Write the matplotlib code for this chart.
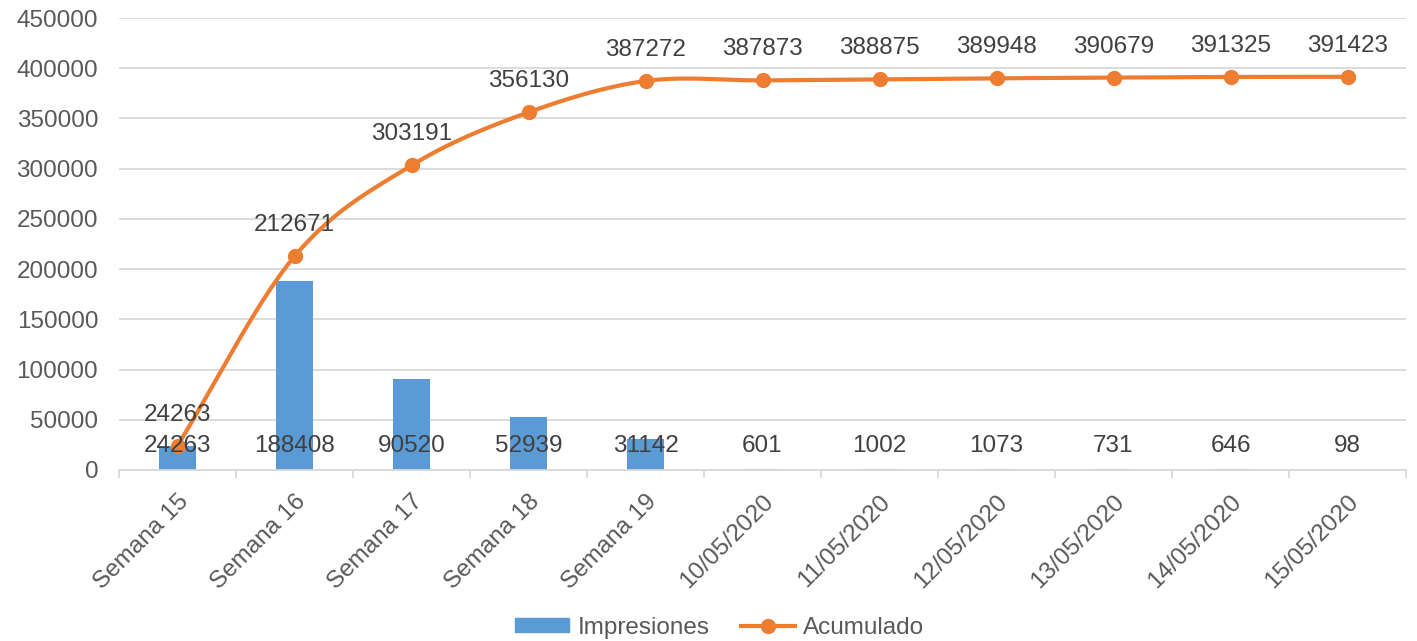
import numpy as np
import matplotlib
matplotlib.use("Agg")
import matplotlib.pyplot as plt
from matplotlib.patches import Patch
from matplotlib.lines import Line2D

categories = ["Semana 15", "Semana 16", "Semana 17", "Semana 18", "Semana 19",
              "10/05/2020", "11/05/2020", "12/05/2020", "13/05/2020", "14/05/2020", "15/05/2020"]
impresiones = [24263, 188408, 90520, 52939, 31142, 601, 1002, 1073, 731, 646, 98]
acumulado = [24263, 212671, 303191, 356130, 387272, 387873, 388875, 389948, 390679, 391325, 391423]

plt.rcParams['font.family'] = ['Liberation Sans', 'DejaVu Sans']

BAR = '#5B9BD5'
LINE = '#ED7D31'
TXT = '#404040'
TICK = '#595959'
FS = 17.5

fig = plt.figure(figsize=(14.17, 6.41), dpi=100)
ax = fig.add_axes([119/1417, 1-470/641, (1406-119)/1417, (470-18)/641])

x = np.arange(len(categories))
ax.bar(x, impresiones, width=0.32, color=BAR, zorder=2)


def catmull_rom(xs, ys, n=30):
    xs = np.asarray(xs, float); ys = np.asarray(ys, float)
    px = np.concatenate([[2*xs[0]-xs[1]], xs, [2*xs[-1]-xs[-2]]])
    py = np.concatenate([[2*ys[0]-ys[1]], ys, [2*ys[-1]-ys[-2]]])
    outx, outy = [], []
    for i in range(1, len(px)-2):
        t = np.linspace(0, 1, n, endpoint=False)
        for arr, out in ((px, outx), (py, outy)):
            p0, p1, p2, p3 = arr[i-1], arr[i], arr[i+1], arr[i+2]
            m1 = (p2 - p0) / 2
            m2 = (p3 - p1) / 2
            h00 = 2*t**3 - 3*t**2 + 1
            h10 = t**3 - 2*t**2 + t
            h01 = -2*t**3 + 3*t**2
            h11 = t**3 - t**2
            out.extend(h00*p1 + h10*m1 + h01*p2 + h11*m2)
    outx.append(xs[-1]); outy.append(ys[-1])
    return np.array(outx), np.array(outy)

sx, sy = catmull_rom(x, acumulado)
ax.plot(sx, sy, color=LINE, lw=3, zorder=3, solid_capstyle='round')
ax.plot(x, acumulado, 'o', color=LINE, ms=10, zorder=4)

for xi, v in zip(x, impresiones):
    ax.annotate(str(v), (xi, 0), xytext=(0, 24), textcoords='offset pixels',
                ha='center', va='center', fontsize=FS, color=TXT, zorder=5)
for xi, v in zip(x, acumulado):
    ax.annotate(str(v), (xi, v), xytext=(0, 31), textcoords='offset pixels',
                ha='center', va='center', fontsize=FS, color=TXT, zorder=5)

ax.set_xlim(-0.5, len(categories)-0.5)
ax.set_ylim(0, 450000)
ax.set_yticks(np.arange(0, 450001, 50000))
ax.yaxis.set_major_formatter(matplotlib.ticker.FuncFormatter(lambda v, p: f"{int(v)}"))
ax.grid(axis='y', color='#D9D9D9', lw=1.3, zorder=0)
ax.set_axisbelow(True)
for s in ['top', 'right', 'left']:
    ax.spines[s].set_visible(False)
ax.spines['bottom'].set_color('#D9D9D9')
ax.spines['bottom'].set_linewidth(1.3)
ax.tick_params(axis='y', length=0, labelsize=FS, labelcolor=TICK, pad=15)

ax.set_xticks(x)
ax.set_xticklabels(categories, rotation=45, ha='right', rotation_mode='anchor',
                   fontsize=FS, color=TICK)
ax.tick_params(axis='x', which='major', length=0, pad=15)
ax.set_xticks(np.arange(-0.5, len(categories), 1), minor=True)
ax.tick_params(axis='x', which='minor', length=6, color='#D9D9D9', width=1.3)

handles = [Patch(color=BAR, label='Impresiones'),
           Line2D([0], [0], color=LINE, lw=3, marker='o', ms=10, label='Acumulado')]
fig.legend(handles=handles, loc='center', bbox_to_anchor=(0.508, 1-628/641), ncol=2,
           frameon=False, fontsize=FS, labelcolor=TICK, handlelength=2.2,
           handleheight=0.5, columnspacing=1.3, handletextpad=0.35)

fig.savefig('out.png', dpi=100)
